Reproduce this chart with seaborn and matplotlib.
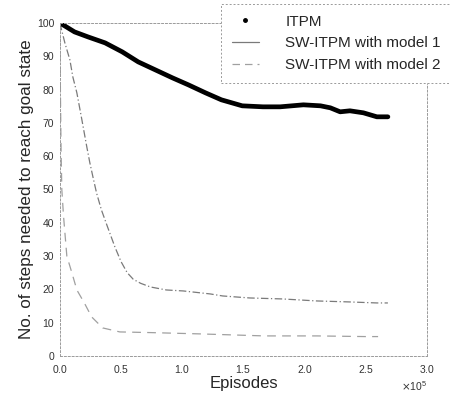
import matplotlib
matplotlib.use("Agg")
import matplotlib.pyplot as plt
from matplotlib.lines import Line2D
from matplotlib.ticker import ScalarFormatter
import seaborn as sns
import pandas as pd

# ---- data ----
itpm_x = [0, 12000, 23000, 37000, 51000, 64000, 78000, 92000, 105000, 119000,
          132000, 149000, 166000, 180000, 199000, 213000, 221000, 229000,
          237000, 248000, 259000, 268000]
itpm_y = [100, 97.3, 95.8, 94.0, 91.3, 88.3, 85.9, 83.5, 81.4, 79.0,
          76.9, 75.1, 74.8, 74.8, 75.4, 75.1, 74.5, 73.3,
          73.6, 73.0, 71.8, 71.8]

m1_x = [0, 4100, 8200, 10600, 13900, 18000, 22000, 24500, 27000, 30000,
        34000, 39000, 45000, 50000, 55000, 60000, 66000, 74000, 87000, 101000,
        123000, 133000, 155000, 182000, 210000, 237000, 259000, 268000]
m1_y = [100, 94.0, 88.9, 83.8, 79.0, 70.9, 62.8, 58.0, 53.8, 48.9,
        43.8, 38.7, 32.7, 28.3, 25.0, 23.0, 21.8, 20.7, 19.8, 19.5,
        18.6, 18.0, 17.4, 17.1, 16.5, 16.2, 15.9, 15.9]

m2_x = [0, 500, 1000, 1600, 3000, 5700, 9800, 13900, 20000, 26000, 35000,
        49000, 74000, 115000, 167000, 210000, 250000, 260000]
m2_y = [100, 78, 62, 50, 42, 30, 25, 19.8, 15.9, 11.7, 8.4,
        7.2, 7.0, 6.6, 6.0, 6.0, 5.8, 5.8]

series_names = ["ITPM", "SW-ITPM with model 1", "SW-ITPM with model 2"]
x_ticks = [0, 50000, 100000, 150000, 200000, 250000, 300000]
y_ticks = [0, 10, 20, 30, 40, 50, 60, 70, 80, 90, 100]

# ---- styling ----
sns.set_style("white")
plt.rcParams["font.family"] = ["Liberation Sans", "DejaVu Sans"]

fig = plt.figure(figsize=(4.5, 3.95), dpi=100)
ax = fig.add_axes([0.133, 0.099, 0.816, 0.843])

df1 = pd.DataFrame({"x": itpm_x, "y": itpm_y})
df2 = pd.DataFrame({"x": m1_x, "y": m1_y})
df3 = pd.DataFrame({"x": m2_x, "y": m2_y})

sns.lineplot(data=df3, x="x", y="y", ax=ax, color="#a0a0a0", lw=0.9,
             linestyle=(0, (7, 5)), sort=False)
sns.lineplot(data=df2, x="x", y="y", ax=ax, color="#7a7a7a", lw=0.9,
             linestyle=(0, (6, 2, 1, 2)), sort=False)
sns.lineplot(data=df1, x="x", y="y", ax=ax, color="black", lw=3.4,
             sort=False, solid_capstyle="round")

ax.set_xlim(0, 300000)
ax.set_ylim(0, 100)
ax.set_xticks(x_ticks)
ax.set_yticks(y_ticks)
fmt = ScalarFormatter(useMathText=True)
fmt.set_powerlimits((0, 0))
ax.xaxis.set_major_formatter(fmt)
ax.xaxis.get_offset_text().set_fontsize(7.5)
ax.tick_params(axis="both", direction="in", length=3, width=0.6,
               labelsize=7.5, colors="#333333")
ax.tick_params(axis="x", pad=5)
ax.tick_params(axis="y", pad=4)

for sp in ax.spines.values():
    sp.set_visible(True)
    sp.set_linestyle((0, (2, 2)))
    sp.set_color("#9a9a9a")
    sp.set_linewidth(0.7)

ax.set_xlabel("Episodes", fontsize=12, labelpad=1)
ax.set_ylabel("No. of steps needed to reach goal state", fontsize=12.3, labelpad=2)

handles = [
    Line2D([], [], color="black", marker=".", markersize=5, ls="none"),
    Line2D([], [], color="#7a7a7a", lw=0.9, ls="-"),
    Line2D([], [], color="#a0a0a0", lw=0.9, ls=(0, (6, 4))),
]
leg = fig.legend(handles, series_names, loc="upper right",
                 bbox_to_anchor=(1.003, 0.99), fontsize=11,
                 frameon=True, fancybox=False, handlelength=1.8,
                 handletextpad=1.7, labelspacing=0.5, borderpad=0.7,
                 borderaxespad=0.0)
fr = leg.get_frame()
fr.set_edgecolor("#9a9a9a")
fr.set_linestyle((0, (2, 2)))
fr.set_linewidth(0.7)
fr.set_facecolor("white")
fr.set_alpha(1)

fig.savefig("out.png", dpi=100)
